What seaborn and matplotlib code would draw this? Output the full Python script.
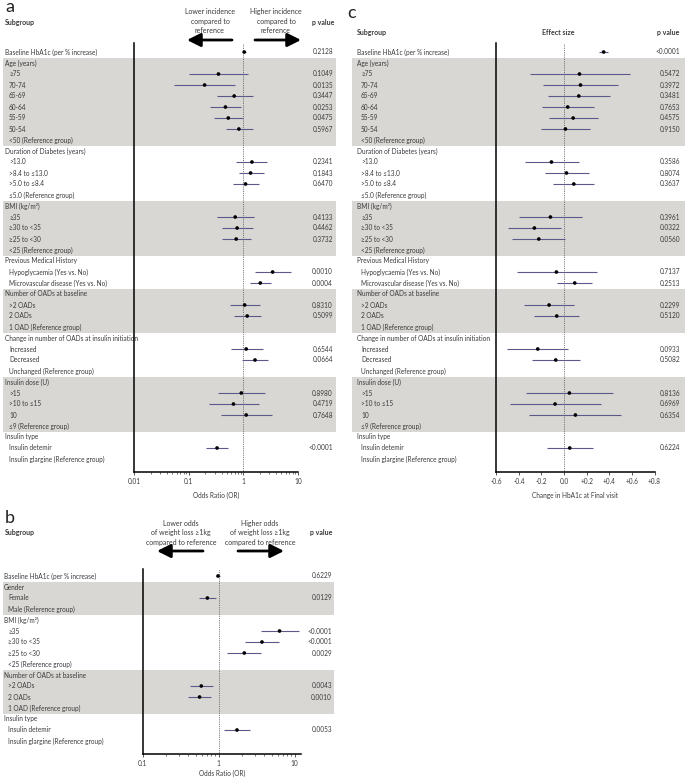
import numpy as np
import pandas as pd
import seaborn as sns
import matplotlib.pyplot as plt
import matplotlib.ticker as mticker

# ---- panel a: incidence of hypoglycaemia (odds ratio) ----
a_rows = ['Baseline HbA1c (per % increase)', 'Age (years)', '\u226575', '70-74', '65-69', '60-64', '55-59',
          '50-54', '<50 (Reference group)', 'Duration of Diabetes (years)', '>13.0', '>8.4 to \u226413.0',
          '>5.0 to \u22648.4', '\u22645.0 (Reference group)', 'BMI (kg/m\u00b2)', '\u226535', '\u226530 to <35',
          '\u226525 to <30', '<25 (Reference group)', 'Previous Medical History', 'Hypoglycaemia (Yes vs. No)',
          'Microvascular disease (Yes vs. No)', 'Number of OADs at baseline', '>2 OADs', '2 OADs',
          '1 OAD (Reference group)', 'Change in number of OADs at insulin initiation', 'Increased', 'Decreased',
          'Unchanged (Reference group)', 'Insulin dose (U)', '>15', '>10 to \u226415', '10',
          '\u22649 (Reference group)', 'Insulin type', 'Insulin detemir', 'Insulin glargine (Reference group)']
a_heads = [0, 1, 9, 14, 19, 22, 26, 30, 35]
nan = np.nan
a_or = [1.04, nan, 0.35, 0.195, 0.68, 0.47, 0.53, 0.83, nan, nan, 1.44, 1.36, 1.10, nan, nan, 0.71, 0.77, 0.74,
        nan, nan, 3.45, 2.05, nan, 1.06, 1.18, nan, nan, 1.13, 1.64, nan, nan, 0.92, 0.66, 1.13, nan, nan, 0.33, nan]
a_lo = [0.95, nan, 0.10, 0.053, 0.33, 0.24, 0.29, 0.48, nan, nan, 0.75, 0.82, 0.65, nan, nan, 0.33, 0.41, 0.41,
        nan, nan, 1.64, 1.34, nan, 0.56, 0.68, nan, nan, 0.59, 0.96, nan, nan, 0.34, 0.23, 0.39, nan, nan, 0.21, nan]
a_hi = [1.14, nan, 1.24, 0.71, 1.48, 0.89, 1.0, 1.48, nan, nan, 2.76, 2.36, 1.91, nan, nan, 1.55, 1.48, 1.36,
        nan, nan, 7.39, 3.17, nan, 2.0, 2.11, nan, nan, 2.26, 2.88, nan, nan, 2.5, 1.94, 3.31, nan, nan, 0.52, nan]
a_p = ['0.2128', '', '0.1049', '0.0135', '0.3447', '0.0253', '0.0475', '0.5967', '', '', '0.2341', '0.1843',
       '0.6470', '', '', '0.4133', '0.4462', '0.3732', '', '', '0.0010', '0.0004', '', '0.8310', '0.5099', '', '',
       '0.6544', '0.0664', '', '', '0.8980', '0.4719', '0.7648', '', '', '<0.0001', '']
a_bands = [(1, 8), (14, 18), (22, 25), (30, 34)]

# ---- panel c: change in HbA1c (effect size), same subgroups as a ----
c_eff = [0.35, nan, 0.136, 0.145, 0.130, 0.032, 0.080, 0.012, nan, nan, -0.112, 0.021, 0.086, nan, nan, -0.121,
         -0.263, -0.224, nan, nan, -0.068, 0.094, nan, -0.133, -0.065, nan, nan, -0.233, -0.074, nan, nan, 0.047,
         -0.080, 0.100, nan, nan, 0.050, nan]
c_lo = [0.31, nan, -0.304, -0.186, -0.142, -0.192, -0.133, -0.204, nan, nan, -0.348, -0.165, -0.094, nan, nan,
        -0.398, -0.499, -0.457, nan, nan, -0.419, -0.062, nan, -0.351, -0.265, nan, nan, -0.501, -0.286, nan, nan,
        -0.336, -0.475, -0.307, nan, nan, -0.150, nan]
c_hi = [0.39, nan, 0.581, 0.475, 0.407, 0.263, 0.298, 0.230, nan, nan, 0.130, 0.218, 0.268, nan, nan, 0.162,
        -0.029, 0.006, nan, nan, 0.292, 0.251, nan, 0.088, 0.133, nan, nan, 0.035, 0.142, nan, nan, 0.431, 0.324,
        0.504, nan, nan, 0.254, nan]
c_p = ['<0.0001', '', '0.5472', '0.3972', '0.3481', '0.7653', '0.4575', '0.9150', '', '', '0.3586', '0.8074',
       '0.3637', '', '', '0.3961', '0.0322', '0.0560', '', '', '0.7137', '0.2513', '', '0.2299', '0.5120', '', '',
       '0.0933', '0.5082', '', '', '0.8136', '0.6969', '0.6354', '', '', '0.6224', '']

# ---- panel b: weight loss >=1 kg (odds ratio) ----
b_rows = ['Baseline HbA1c (per % increase)', 'Gender', 'Female', 'Male (Reference group)', 'BMI (kg/m\u00b2)',
          '\u226535', '\u226530 to <35', '\u226525 to <30', '<25 (Reference group)', 'Number of OADs at baseline',
          '>2 OADs', '2 OADs', '1 OAD (Reference group)', 'Insulin type', 'Insulin detemir',
          'Insulin glargine (Reference group)']
b_heads = [0, 1, 4, 9, 13]
b_or = [0.98, nan, 0.71, nan, nan, 6.32, 3.71, 2.17, nan, nan, 0.59, 0.56, nan, nan, 1.74, nan]
b_lo = [0.93, nan, 0.55, nan, nan, 3.56, 2.22, 1.30, nan, nan, 0.42, 0.40, nan, nan, 1.17, nan]
b_hi = [1.03, nan, 0.93, nan, nan, 11.5, 6.26, 3.60, nan, nan, 0.85, 0.80, nan, nan, 2.58, nan]
b_p = ['0.6229', '', '0.0129', '', '', '<0.0001', '<0.0001', '0.0029', '', '', '0.0043', '0.0010', '', '',
       '0.0053', '']
b_bands = [(1, 3), (9, 12)]

W, H = 685, 778
BAND = '#d9d7d3'
BAR = '#5c5a8c'
TXT = '#3a3a3a'
FS = 4.7

sns.set_style('ticks')
plt.rcParams['font.family'] = ['Lato', 'DejaVu Sans']


def rect(x0, y0, x1, y1):
    return [x0 / W, 1 - y1 / H, (x1 - x0) / W, (y1 - y0) / H]


def draw_panel(fig, rows, heads, est, lo, hi, pvals, bands, plot_x, bg_x, y_top, row0, y_axis,
               head_x, pcol_x, xlim, log, ref):
    step = 11.0
    ylim = ((y_axis - row0) / step, (y_top - row0) / step)

    bg = fig.add_axes(rect(bg_x[0], y_top, bg_x[1], y_axis))
    bg.set_xlim(bg_x)
    bg.set_ylim(ylim)
    bg.axis('off')
    for i0, i1 in bands:
        bg.axhspan(i0 - 0.5, i1 + 0.5, color=BAND, lw=0, zorder=0)
    for i, lab in enumerate(rows):
        x = head_x if i in heads else head_x + 4
        bg.text(x, i, lab, fontsize=FS, color=TXT, va='center', ha='left')
        if pvals[i]:
            bg.text(pcol_x, i, pvals[i], fontsize=FS, color=TXT, va='center', ha='right')

    ax = fig.add_axes(rect(plot_x[0], y_top, plot_x[1], y_axis))
    ax.patch.set_alpha(0)
    df = pd.DataFrame({'row': np.arange(len(rows)), 'est': est, 'lo': lo, 'hi': hi}).dropna()
    ax.axvline(ref, color='#555555', lw=0.6, ls=(0, (1, 1.2)), zorder=1)
    ax.hlines(df['row'], df['lo'], df['hi'], color=BAR, lw=0.8, zorder=2)
    sns.scatterplot(data=df, x='est', y='row', ax=ax, marker='o', color='black', s=7,
                    edgecolor='none', zorder=3, legend=False)
    if log:
        ax.set_xscale('log')
    ax.set_xlim(xlim)
    ax.set_ylim(ylim)
    ax.set_yticks([])
    ax.set_ylabel('')
    sns.despine(ax=ax)
    for s in ('left', 'bottom'):
        ax.spines[s].set_linewidth(1.1)
        ax.spines[s].set_color('black')
    ax.tick_params(axis='x', which='major', labelsize=FS, colors=TXT, length=2.5, width=0.6, pad=2)
    ax.tick_params(axis='x', which='minor', length=1.5, width=0.5, colors=TXT)
    return ax


fig = plt.figure(figsize=(W / 100, H / 100), dpi=100)

# panel a
ax_a = draw_panel(fig, a_rows, a_heads, a_or, a_lo, a_hi, a_p, a_bands, (134.3, 297.8), (3, 336),
                  43, 52, 472, 5, 333, (0.01, 10), True, 1)
ax_a.set_xticks([0.01, 0.1, 1, 10])
ax_a.set_xticklabels(['0.01', '0.1', '1', '10'])
ax_a.set_xlabel('Odds Ratio (OR)', fontsize=FS, color=TXT, labelpad=5)

# panel c
ax_c = draw_panel(fig, a_rows, a_heads, c_eff, c_lo, c_hi, c_p, a_bands, (496.3, 654.5), (352, 685),
                  43, 52, 472, 357, 680, (-0.6, 0.8), False, 0)
c_ticks = [-0.6, -0.4, -0.2, 0.0, 0.2, 0.4, 0.6, 0.8]
ax_c.set_xticks(c_ticks)
ax_c.set_xticklabels(['0.0' if t == 0 else f'{t:+.1f}' for t in c_ticks])
ax_c.xaxis.set_minor_locator(mticker.NullLocator())
ax_c.set_xlabel('Change in HbA1c at Final visit', fontsize=FS, color=TXT, labelpad=5)

# panel b
ax_b = draw_panel(fig, b_rows, b_heads, b_or, b_lo, b_hi, b_p, b_bands, (142.7, 300.7), (3, 334),
                  569, 576, 754, 4, 332, (0.1, 12), True, 1)
ax_b.set_xticks([0.1, 1, 10])
ax_b.set_xticklabels(['0.1', '1', '10'])
ax_b.set_xlabel('Odds Ratio (OR)', fontsize=FS, color=TXT, labelpad=2)

# headers drawn on a full-figure overlay in pixel units
ov = fig.add_axes([0, 0, 1, 1], zorder=-1)
ov.set_xlim(0, W)
ov.set_ylim(H, 0)
ov.axis('off')
hd = dict(fontsize=5.0, color=TXT, va='center')
arrow = dict(arrowstyle='-|>,head_length=0.9,head_width=0.45', lw=2.0, color='black', mutation_scale=9,
             shrinkA=0, shrinkB=0)

ov.text(5, 7, 'a', fontsize=13, va='center', ha='left', color='#222222')
ov.text(5, 22, 'Subgroup', fontweight='bold', ha='left', **hd)
ov.text(323, 22, 'p value', fontweight='bold', ha='center', **hd)
ov.text(210, 21, 'Lower incidence\ncompared to\nreference', ha='center', linespacing=1.45, **hd)
ov.text(276, 21, 'Higher incidence\ncompared to\nreference', ha='center', linespacing=1.45, **hd)
ov.annotate('', xy=(187, 40), xytext=(232, 40), arrowprops=arrow)
ov.annotate('', xy=(301, 40), xytext=(255, 40), arrowprops=arrow)

ov.text(347, 13, 'c', fontsize=13, va='center', ha='left', color='#222222')
ov.text(357, 32, 'Subgroup', fontweight='bold', ha='left', **hd)
ov.text(558, 32, 'Effect size', fontweight='bold', ha='center', **hd)
ov.text(668, 32, 'p value', fontweight='bold', ha='center', **hd)

ov.text(5, 518, 'b', fontsize=13, va='center', ha='left', color='#222222')
ov.text(5, 533, 'Subgroup', fontweight='bold', ha='left', **hd)
ov.text(321, 533, 'p value', fontweight='bold', ha='center', **hd)
ov.text(181, 533, 'Lower odds\nof weight loss \u22651kg\ncompared to reference', ha='center', linespacing=1.45, **hd)
ov.text(260, 533, 'Higher odds\nof weight loss \u22651kg\ncompared to reference', ha='center', linespacing=1.45, **hd)
ov.annotate('', xy=(157, 551), xytext=(203, 551), arrowprops=arrow)
ov.annotate('', xy=(284, 551), xytext=(238, 551), arrowprops=arrow)

fig.savefig('out.png', dpi=100)
